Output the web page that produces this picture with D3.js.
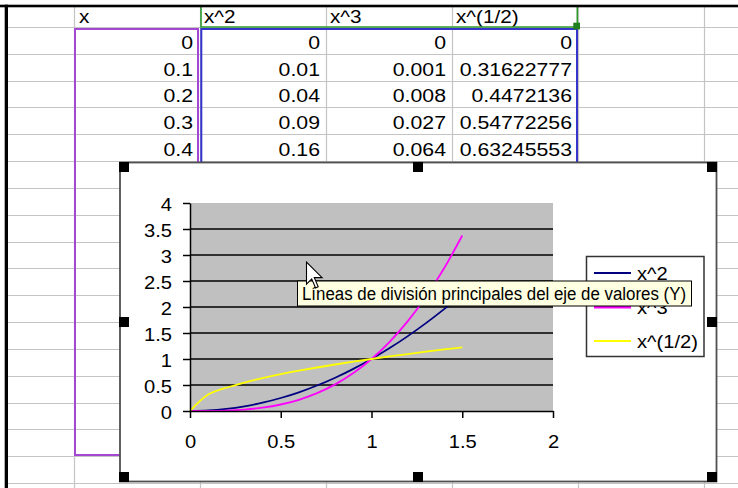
<!DOCTYPE html>
<html><head><meta charset="utf-8">
<script src="https://cdn.jsdelivr.net/npm/d3@7"></script>
<style>
body{margin:0;background:#fff;overflow:hidden;}
svg{display:block;font-family:Arial,"Liberation Sans",sans-serif;}
</style>
</head><body>
<svg id="c" width="738" height="488"></svg>
<script>
// ---------- data ----------
const xValues      = [0,0.1,0.2,0.3,0.4,0.5,0.6,0.7,0.8,0.9,1,1.1,1.2,1.3,1.4,1.5];
const squareValues = [0,0.01,0.04,0.09,0.16,0.25,0.36,0.49,0.64,0.81,1,1.21,1.44,1.69,1.96,2.25];
const cubeValues   = [0,0.001,0.008,0.027,0.064,0.125,0.216,0.343,0.512,0.729,1,1.331,1.728,2.197,2.744,3.375];
const rootValues   = [0,0.31622777,0.4472136,0.54772256,0.63245553,0.70710678,0.77459667,0.83666003,0.89442719,0.9486833,1,1.04880885,1.09544512,1.14017543,1.18321596,1.22474487];
const seriesNames  = ["x^2","x^3","x^(1/2)"];
const seriesColors = ["#000080","#ff00ff","#ffff00"];
const headerLabels = ["x","x^2","x^3","x^(1/2)"];
const xTicks = [0,0.5,1,1.5,2];
const yTicks = [0,0.5,1,1.5,2,2.5,3,3.5,4];
const tooltipText = "Líneas de división principales del eje de valores (Y)";
const visibleRows = 5;

// ---------- layout ----------
const W = 738, H = 488;
const svg = d3.select("#c");
const SX = 1.12; // horizontal stretch of the screenshot text
const colEdges = [74,200,326,452,578,704];
const rowTop = 27, rowH = 26.83;

function stext(g, x, y, s, size, anchor, fill){
  return g.append("text")
    .attr("transform", `translate(${x},${y}) scale(${SX},1)`)
    .attr("text-anchor", anchor || "start")
    .attr("font-size", size)
    .attr("fill", fill || "#000")
    .text(s);
}

svg.append("rect").attr("width",W).attr("height",H).attr("fill","#fff");

// ---------- spreadsheet ----------
const sheet = svg.append("g");
for (let k = 0; k <= 17; k++) {
  const yy = Math.round(rowTop + rowH*k) + 0.5;
  sheet.append("line").attr("x1",8).attr("x2",W).attr("y1",yy).attr("y2",yy)
    .attr("stroke","#c4c4c4").attr("stroke-width",1.2);
}
colEdges.forEach(cx => {
  sheet.append("line").attr("x1",cx+0.5).attr("x2",cx+0.5).attr("y1",7).attr("y2",H)
    .attr("stroke","#c4c4c4").attr("stroke-width",1.2);
});

// header
const headerX = [79,204,330,456];
headerLabels.forEach((h,i)=> stext(sheet, headerX[i], 23, h, 18.5, "start"));

// data rows
const tableCols = [xValues, squareValues, cubeValues, rootValues];
const colRight = [193,320,446,572];
for (let r = 0; r < visibleRows; r++) {
  const base = rowTop + rowH*(r+1) - 5;
  tableCols.forEach((arr,ci) => stext(sheet, colRight[ci], base, String(arr[r]), 19, "end"));
}

// selection borders
sheet.append("rect").attr("x",75).attr("y",29).attr("width",123).attr("height",426)
  .attr("fill","none").attr("stroke","#a448d4").attr("stroke-width",2);
sheet.append("rect").attr("x",201.3).attr("y",29).attr("width",375.7).attr("height",426)
  .attr("fill","none").attr("stroke","#3434cc").attr("stroke-width",2);
sheet.append("path").attr("d","M201,5 V27 H577.3 V5")
  .attr("fill","none").attr("stroke","#2e9a2e").attr("stroke-width",1.6);
sheet.append("rect").attr("x",573.3).attr("y",22.7).attr("width",6.7).attr("height",6.7).attr("fill","#1f7f1f");

// window borders
svg.append("rect").attr("x",0).attr("y",4.7).attr("width",W).attr("height",2.6).attr("fill","#000");
svg.append("rect").attr("x",4.7).attr("y",4.7).attr("width",3.3).attr("height",H).attr("fill","#000");

// ---------- chart object ----------
const chart = svg.append("g");
chart.append("rect").attr("x",120).attr("y",162.5).attr("width",596.5).attr("height",319)
  .attr("fill","#fff").attr("stroke","#505050").attr("stroke-width",1.8);

const plot = {left:190, right:553, top:203, bottom:411};
const x = d3.scaleLinear().domain([0,2]).range([plot.left, plot.right]);
const y = d3.scaleLinear().domain([0,4]).range([plot.bottom, plot.top]);

chart.append("rect").attr("x",plot.left).attr("y",plot.top)
  .attr("width",plot.right-plot.left).attr("height",plot.bottom-plot.top).attr("fill","#c0c0c0");

// gridlines
chart.append("g").selectAll("line").data(yTicks.filter(t=>t>0 && t<4)).join("line")
  .attr("x1",plot.left).attr("x2",plot.right)
  .attr("y1",d=>y(d)).attr("y2",d=>y(d))
  .attr("stroke","#000").attr("stroke-width",1.5);

// series
const seriesData = [squareValues, cubeValues, rootValues];
const line = d3.line().x(d=>x(d[0])).y(d=>y(d[1])).curve(d3.curveCatmullRom.alpha(0.5));
seriesData.forEach((vals,i)=>{
  chart.append("path").datum(xValues.map((xv,j)=>[xv, vals[j]]))
    .attr("d", line).attr("fill","none")
    .attr("stroke", seriesColors[i]).attr("stroke-width",1.8);
});

// axes
const fmt = d3.format("~g");
const yAxis = chart.append("g").attr("transform",`translate(${plot.left},0)`)
  .call(d3.axisLeft(y).tickValues(yTicks).tickSize(7).tickSizeOuter(0).tickFormat(fmt));
const xAxis = chart.append("g").attr("transform",`translate(0,${plot.bottom})`)
  .call(d3.axisBottom(x).tickValues(xTicks).tickSize(7).tickSizeOuter(0).tickFormat(fmt));
[yAxis,xAxis].forEach(a=>{
  a.select(".domain").attr("stroke","#000").attr("stroke-width",1.5);
  a.selectAll(".tick line").attr("stroke","#000").attr("stroke-width",1.5);
  a.selectAll("text").attr("font-size",18).attr("fill","#000")
    .attr("font-family",'Arial,"Liberation Sans",sans-serif');
});
yAxis.selectAll("text").attr("x",-18/SX).attr("y",1).attr("dy","0.35em")
  .attr("transform",`scale(${SX},1)`);
xAxis.selectAll("text").attr("y",37).attr("dy",0).attr("transform",`scale(${SX},1)`);

// legend
const leg = chart.append("g");
leg.append("rect").attr("x",586.5).attr("y",256.5).attr("width",117.5).attr("height",100)
  .attr("fill","#fff").attr("stroke","#333").attr("stroke-width",1.5);
const legY = [273,307,341];
seriesNames.forEach((n,i)=>{
  leg.append("line").attr("x1",594).attr("x2",631).attr("y1",legY[i]).attr("y2",legY[i])
    .attr("stroke",seriesColors[i]).attr("stroke-width",i===1?3:1.8);
  stext(leg, 637, legY[i]+6.5, n, 18, "start");
});

// handles
const hx = [119,413,707], hy = [162,317,472];
hx.forEach((a,i)=>hy.forEach((b,j)=>{
  if (i===1 && j===1) return;
  chart.append("rect").attr("x",a).attr("y",b).attr("width",10).attr("height",10).attr("fill","#000");
}));

// tooltip
const tip = svg.append("g");
tip.append("rect").attr("x",297.5).attr("y",281).attr("width",394).attr("height",25)
  .attr("fill","#ffffe1").attr("stroke","#000").attr("stroke-width",1);
tip.append("text").attr("x",302).attr("y",300).attr("font-size",18).attr("fill","#000")
  .attr("textLength",384).attr("lengthAdjust","spacingAndGlyphs").text(tooltipText);

// mouse cursor
const cs = 1.3, tx = 306.5, ty = 262;
const pts = [[0,0],[0,17],[4,13],[7,20],[9,19],[6,12],[12,12]];
svg.append("path")
  .attr("d","M"+pts.map(p=>[tx+p[0]*cs, ty+p[1]*cs].join(",")).join("L")+"Z")
  .attr("fill","#fff").attr("stroke","#000").attr("stroke-width",1.1).attr("stroke-linejoin","miter");
</script>
</body></html>
